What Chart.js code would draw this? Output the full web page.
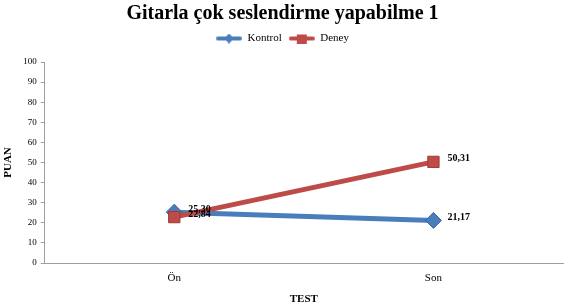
<!DOCTYPE html>
<html>
<head>
<meta charset="utf-8">
<script src="https://cdn.jsdelivr.net/npm/chart.js@4"></script>
<style>
  html, body { margin: 0; padding: 0; background: #fff; }
</style>
</head>
<body>
<canvas id="myChart" width="581" height="305"></canvas>
<script>
// data
const categories = ['Ön', 'Son'];
const kontrolValues = [25.30, 21.17];
const deneyValues = [22.84, 50.31];
const yTicks = [0, 10, 20, 30, 40, 50, 60, 70, 80, 90, 100];

const blue = '#4a7ebb';
const red = '#be4b48';

// small legend picture: line with marker in the middle
function legendIcon(color, shape) {
  var c = document.createElement('canvas');
  c.width = 26; c.height = 10;
  var g = c.getContext('2d');
  g.strokeStyle = color;
  g.lineWidth = 4;
  g.lineCap = 'round';
  g.beginPath(); g.moveTo(2, 5); g.lineTo(24, 5); g.stroke();
  g.fillStyle = color;
  g.beginPath();
  if (shape === 'diamond') {
    g.moveTo(13, 0); g.lineTo(18, 5); g.lineTo(13, 10); g.lineTo(8, 5);
  } else {
    g.rect(8, 1, 10, 9);
  }
  g.closePath(); g.fill();
  return c;
}

// value labels right of each point
const valueLabels = {
  id: 'valueLabels',
  afterDatasetsDraw(chart) {
    var ctx = chart.ctx;
    ctx.save();
    ctx.font = 'bold 10px "Liberation Serif"';
    ctx.fillStyle = '#000';
    ctx.textAlign = 'left';
    ctx.textBaseline = 'middle';
    chart.data.datasets.forEach(function (ds, i) {
      chart.getDatasetMeta(i).data.forEach(function (pt, j) {
        var txt = ds.data[j].toFixed(2).replace('.', ',');
        ctx.fillText(txt, pt.x + 14, pt.y - 3);
      });
    });
    ctx.restore();
  }
};

// a bit more room under the legend
const legendGap = {
  id: 'legendGap',
  beforeInit(chart) {
    var fit = chart.legend.fit;
    chart.legend.fit = function () {
      fit.call(this);
      this.height += 8;
    };
  }
};

Chart.defaults.font.family = '"Liberation Serif", "Times New Roman", serif';
Chart.defaults.color = '#000';

var ctx = document.getElementById('myChart').getContext('2d');
var myChart = new Chart(ctx, {
  type: 'line',
  data: {
    labels: categories,
    datasets: [{
      label: 'Kontrol',
      data: kontrolValues,
      order: 2,
      borderColor: blue,
      backgroundColor: blue,
      borderWidth: 5,
      pointStyle: 'rectRot',
      pointRadius: 8,
      pointBorderWidth: 1,
      pointBorderColor: '#3a6aa5',
      tension: 0
    }, {
      label: 'Deney',
      data: deneyValues,
      order: 1,
      borderColor: red,
      backgroundColor: red,
      borderWidth: 5,
      pointStyle: 'rect',
      pointRadius: 8,
      pointBorderWidth: 1,
      pointBorderColor: '#9e3a38',
      tension: 0
    }]
  },
  plugins: [valueLabels, legendGap],
  options: {
    responsive: false,
    animation: false,
    devicePixelRatio: 1,
    layout: { padding: { left: 2, right: 18, top: 2, bottom: 0 } },
    plugins: {
      title: {
        display: true,
        text: 'Gitarla çok seslendirme yapabilme 1',
        font: { size: 20, weight: 'bold' },
        padding: { top: 0, bottom: 0 }
      },
      legend: {
        display: true,
        labels: {
          usePointStyle: true,
          pointStyleWidth: 26,
          font: { size: 11 },
          padding: 7,
          boxHeight: 10,
          generateLabels: function (chart) {
            return [
              { text: 'Kontrol', pointStyle: legendIcon(blue, 'diamond'), datasetIndex: 0, fontColor: '#000', lineWidth: 0 },
              { text: 'Deney', pointStyle: legendIcon(red, 'square'), datasetIndex: 1, fontColor: '#000', lineWidth: 0 }
            ];
          }
        }
      },
      tooltip: { enabled: false }
    },
    scales: {
      x: {
        offset: true,
        grid: { display: false, drawTicks: false },
        border: { color: '#a0a0a0', width: 1 },
        ticks: { font: { size: 11, lineHeight: 1 }, padding: 10 },
        title: { display: true, text: 'TEST', font: { size: 11, weight: 'bold', lineHeight: 1 }, padding: { top: 0, bottom: 0 } }
      },
      y: {
        min: 0,
        max: 100,
        afterBuildTicks: function (axis) {
          axis.ticks = yTicks.map(function (v) { return { value: v }; });
        },
        grid: { display: true, drawOnChartArea: false, drawTicks: true, tickLength: 4, tickColor: '#a0a0a0' },
        border: { color: '#a0a0a0', width: 1 },
        ticks: { font: { size: 9 }, padding: 4, autoSkip: false },
        title: { display: true, text: 'PUAN', font: { size: 11, weight: 'bold' }, padding: { top: 0, bottom: 4 } }
      }
    }
  }
});
</script>
</body>
</html>
